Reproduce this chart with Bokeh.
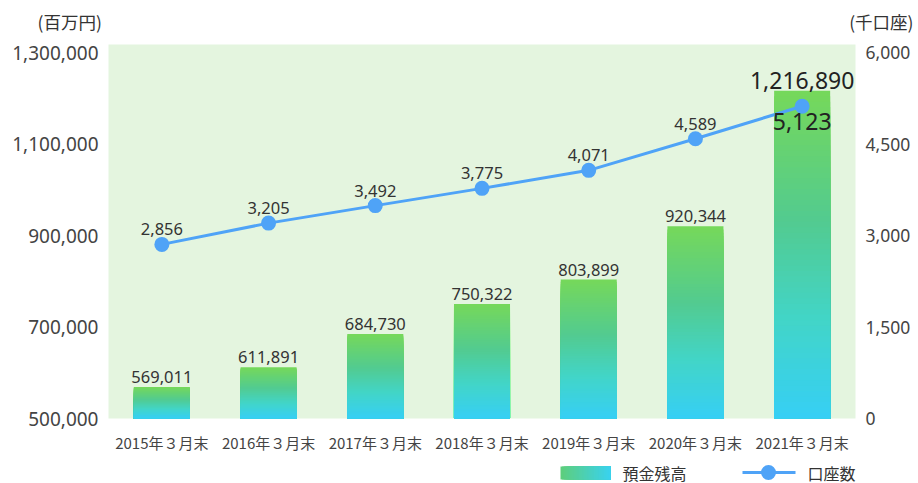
from bokeh.plotting import figure
from bokeh.models import (FactorRange, Range1d, LinearAxis, FixedTicker,
                          NumeralTickFormatter)
from bokeh.layouts import column
from bokeh.core.properties import value
from bokeh.embed import file_html
from bokeh.resources import INLINE

# ---------------- data ----------------
categories = ["2015年３月末", "2016年３月末", "2017年３月末", "2018年３月末",
              "2019年３月末", "2020年３月末", "2021年３月末"]
deposits = [569011, 611891, 684730, 750322, 803899, 920344, 1216890]   # 預金残高 (百万円)
accounts = [2856, 3205, 3492, 3775, 4071, 4589, 5123]                  # 口座数 (千口座)
left_ticks = [500000, 700000, 900000, 1100000, 1300000]
right_ticks = [0, 1500, 3000, 4500, 6000]
left_unit = "(百万円)"
right_unit = "(千口座)"
bar_name = "預金残高"
line_name = "口座数"

CJK = "Noto Sans CJK JP"
NUM = "Noto Sans"
TXT = "#333333"
BASE = 500000
TOP_LEFT = 1318000
TOP_RIGHT = 6000 * (TOP_LEFT - BASE) / (1300000 - BASE)

# gradient stops (top -> bottom)
stops = [(0.0, (0x76, 0xd8, 0x5a)), (0.4, (0x52, 0xcb, 0x90)),
         (0.7, (0x42, 0xd5, 0xc8)), (1.0, (0x36, 0xcf, 0xf5))]


def grad(t):
    for (t0, c0), (t1, c1) in zip(stops[:-1], stops[1:]):
        if t <= t1:
            f = (t - t0) / (t1 - t0) if t1 > t0 else 0
            return "#%02x%02x%02x" % tuple(int(round(a + (b - a) * f)) for a, b in zip(c0, c1))
    return "#%02x%02x%02x" % stops[-1][1]


def blank(h):
    f = figure(width=918, height=h, x_range=Range1d(0, 918), y_range=Range1d(h, 0),
               output_backend="svg", toolbar_location=None, min_border=0)
    f.frame_align = False
    f.axis.visible = False
    f.grid.visible = False
    f.outline_line_color = None
    return f


# ---------------- header ----------------
header = blank(34)
header.text(x=[37], y=[21], text=[left_unit], text_align="left", text_baseline="middle",
            text_font=value(CJK), text_font_size="17.5px", text_color=TXT)
header.text(x=[913], y=[21], text=[right_unit], text_align="right", text_baseline="middle",
            text_font=value(CJK), text_font_size="17.5px", text_color=TXT)

# ---------------- main ----------------
p = figure(width=918, height=421, x_range=FactorRange(*categories),
           y_range=Range1d(BASE, TOP_LEFT), output_backend="svg", toolbar_location=None,
           min_border_left=108, min_border_right=63, min_border_top=10, min_border_bottom=37)
p.frame_align = False
p.extra_y_ranges = {"right": Range1d(0, TOP_RIGHT)}
p.background_fill_color = "#e4f5df"
p.outline_line_color = None
p.grid.visible = False

# gradient bars: nested bars drawn from full height down to the bottom slice
N = 60
xs, tops, cols = [], [], []
for c, v in zip(categories, deposits):
    h = (v - BASE) / N
    for k in range(N, 0, -1):
        xs.append(c)
        tops.append(BASE + k * h)
        cols.append(grad(1 - (k - 0.5) / N))
p.vbar(x=xs, bottom=BASE, top=tops, width=0.525, fill_color=cols, line_color=None)

# line
p.line(x=categories, y=accounts, y_range_name="right", line_color="#4fa3f7", line_width=3)
p.scatter(x=categories, y=accounts, y_range_name="right", size=15,
          fill_color="#4fa3f7", line_color=None)

# bar labels
p.text(x=categories[:-1], y=deposits[:-1], text=[f"{v:,}" for v in deposits[:-1]],
       text_align="center", text_baseline="bottom", y_offset=-4,
       text_font=value(NUM), text_font_size="16.5px", text_color=TXT)
p.text(x=categories[-1:], y=deposits[-1:], text=[f"{v:,}" for v in deposits[-1:]],
       text_align="center", text_baseline="bottom", y_offset=-2,
       text_font=value(NUM), text_font_size="23px", text_color="#222222")

# line labels
p.text(x=categories[:-1], y=accounts[:-1], y_range_name="right",
       text=[f"{v:,}" for v in accounts[:-1]], text_align="center", text_baseline="bottom",
       y_offset=-9, text_font=value(NUM), text_font_size="16.5px", text_color=TXT)
p.text(x=categories[-1:], y=accounts[-1:], y_range_name="right",
       text=[f"{v:,}" for v in accounts[-1:]], text_align="center", text_baseline="top",
       y_offset=7, text_font=value(NUM), text_font_size="23px", text_color="#222222")

# axes
for ax in [p.xaxis[0], p.yaxis[0]]:
    ax.axis_line_color = None
    ax.major_tick_line_color = None
    ax.minor_tick_line_color = None
    ax.major_tick_out = 0
    ax.major_tick_in = 0
    ax.major_label_text_color = "#444444"

p.xaxis.major_label_text_font = CJK
p.xaxis.major_label_text_font_size = "15px"
p.xaxis.major_label_standoff = 13

p.yaxis[0].ticker = FixedTicker(ticks=left_ticks)
p.yaxis[0].formatter = NumeralTickFormatter(format="0,0")
p.yaxis[0].major_label_text_font = NUM
p.yaxis[0].major_label_text_font_size = "19px"
p.yaxis[0].major_label_standoff = 10

ra = LinearAxis(y_range_name="right", ticker=FixedTicker(ticks=right_ticks),
                formatter=NumeralTickFormatter(format="0,0"))
ra.axis_line_color = None
ra.major_tick_line_color = None
ra.minor_tick_line_color = None
ra.major_tick_out = 0
ra.major_tick_in = 0
ra.major_label_text_font = NUM
ra.major_label_text_font_size = "17.5px"
ra.major_label_text_color = "#444444"
ra.major_label_standoff = 10
p.add_layout(ra, "right")

# ---------------- legend ----------------
lg = blank(28)
M = 30
sw_l, sw_r = 560, 610
step = (sw_r - sw_l) / M
c0, c1 = (0x5e, 0xce, 0x7a), (0x39, 0xd2, 0xf0)
lcols = ["#%02x%02x%02x" % tuple(int(round(a + (b - a) * (i + 0.5) / M)) for a, b in zip(c0, c1))
         for i in range(M)]
# nested swatches, each from its left edge to the right end (no seams)
lg.quad(left=[sw_l + i * step for i in range(M)], right=[sw_r] * M,
        top=[11] * M, bottom=[24] * M, fill_color=lcols, line_color=None)
lg.text(x=[622], y=[17.5], text=[bar_name], text_align="left", text_baseline="middle",
        text_font=value(CJK), text_font_size="16px", text_color=TXT)
lg.line(x=[742, 795], y=[17, 17], line_color="#4fa3f7", line_width=3)
lg.scatter(x=[768], y=[17], size=15, fill_color="#4fa3f7", line_color=None)
lg.text(x=[807], y=[17.5], text=[line_name], text_align="left", text_baseline="middle",
        text_font=value(CJK), text_font_size="16px", text_color=TXT)

layout = column(header, p, lg, spacing=0)
open("out.html", "w").write(file_html(layout, INLINE))
